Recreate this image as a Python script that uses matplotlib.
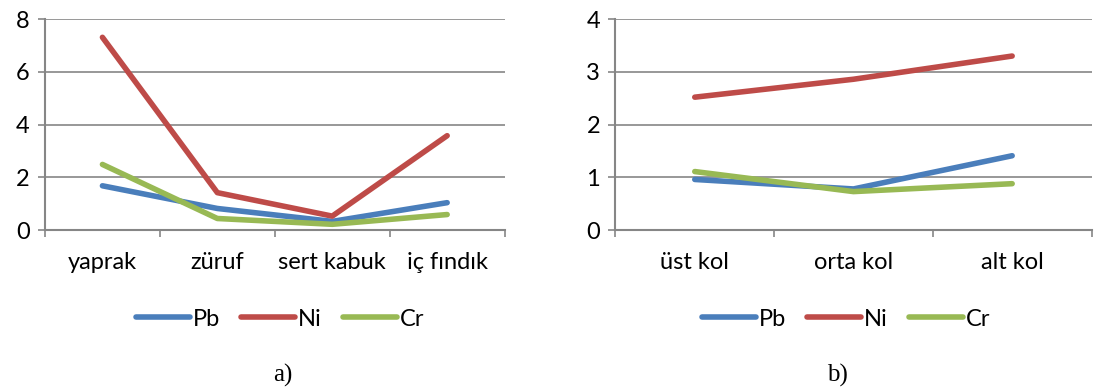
import matplotlib.pyplot as plt
from matplotlib.lines import Line2D

# a) fındık bitkisi kısımları
parts = ['yaprak', 'züruf', 'sert kabuk', 'iç fındık']
pb_a = [1.68, 0.82, 0.33, 1.04]
ni_a = [7.31, 1.42, 0.53, 3.58]
cr_a = [2.49, 0.44, 0.22, 0.59]

# b) dal konumları
branches = ['üst kol', 'orta kol', 'alt kol']
pb_b = [0.96, 0.78, 1.41]
ni_b = [2.52, 2.86, 3.30]
cr_b = [1.11, 0.73, 0.88]

series = ['Pb', 'Ni', 'Cr']
colors = ['#4a7ebb', '#be4b48', '#98b954']

plt.rcParams['font.family'] = ['Lato', 'DejaVu Sans']
FS = 17

fig = plt.figure(figsize=(10.97, 3.90), dpi=100)
ax1 = fig.add_axes([0.041, 0.410, 0.419, 0.541])
ax2 = fig.add_axes([0.561, 0.410, 0.434, 0.541])


def draw(ax, cats, data, ymax, step):
    n = len(cats)
    x = list(range(n))
    for vals, c in zip(data, colors):
        ax.plot(x, vals, color=c, lw=4, solid_capstyle='round')
    ax.set_xlim(-0.5, n - 0.5)
    ax.set_ylim(0, ymax)
    ax.set_yticks(range(0, ymax + 1, step))
    ax.set_xticks(x)
    ax.set_xticklabels(cats)
    ax.set_xticks([i - 0.5 for i in range(n + 1)], minor=True)
    ax.tick_params(axis='x', which='major', length=0, pad=16, labelsize=FS)
    ax.tick_params(axis='x', which='minor', length=5, color='#868686', width=1.2)
    ax.tick_params(axis='y', length=5, color='#868686', width=1.2, labelsize=FS, pad=6)
    ax.grid(axis='y', color='#868686', lw=1.2)
    ax.set_axisbelow(True)
    for s in ['top', 'right']:
        ax.spines[s].set_visible(False)
    for s in ['left', 'bottom']:
        ax.spines[s].set_color('#868686')
        ax.spines[s].set_linewidth(1.5)


draw(ax1, parts, [pb_a, ni_a, cr_a], 8, 2)
draw(ax2, branches, [pb_b, ni_b, cr_b], 4, 1)

handles = [Line2D([], [], color=c, lw=4, solid_capstyle='round') for c in colors]
for cx in (280 / 1097, 846 / 1097):
    fig.legend(handles, series, loc='center', bbox_to_anchor=(cx, 1 - 319 / 390),
               ncol=3, frameon=False, fontsize=FS, handlelength=2.3,
               handletextpad=0.1, columnspacing=0.9, borderpad=0)

fig.text(283 / 1097, 1 - 375 / 390, 'a)', ha='center', va='center',
         fontsize=18, family='Liberation Serif')
fig.text(837 / 1097, 1 - 375 / 390, 'b)', ha='center', va='center',
         fontsize=18, family='Liberation Serif')

fig.savefig('out.png', dpi=100)
